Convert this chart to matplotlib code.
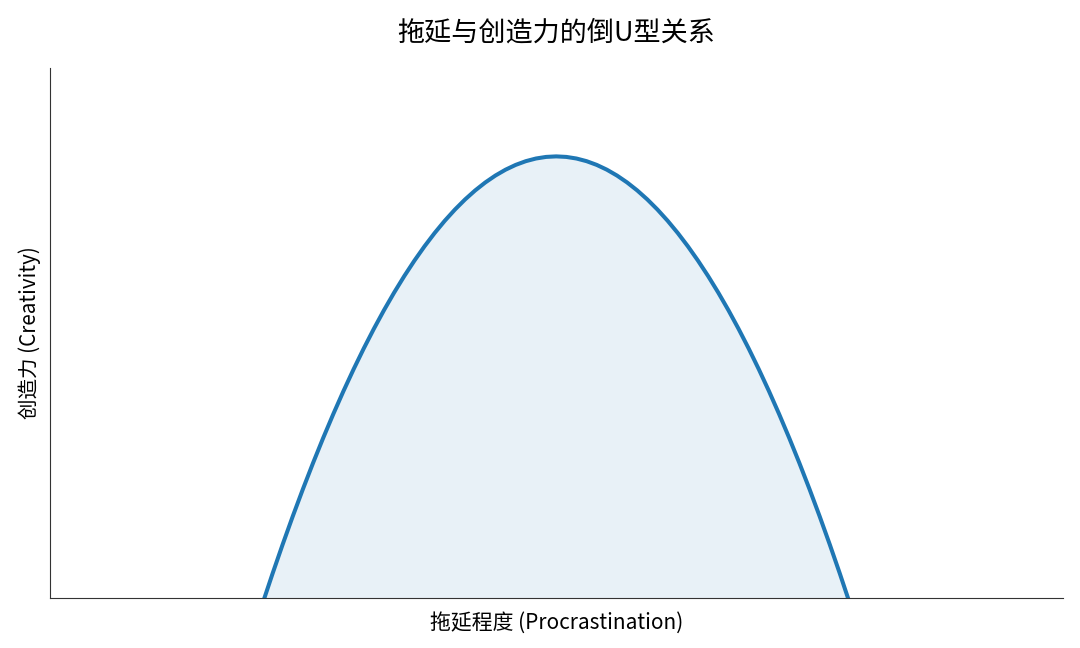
import matplotlib
matplotlib.use("Agg")
import matplotlib.pyplot as plt

plt.rcParams['font.family'] = ['Noto Sans CJK SC', 'DejaVu Sans']

procrastination = [2.1, 2.2, 2.3, 2.4, 2.5, 2.6, 2.7, 2.8, 2.9, 3.0,
                   3.1, 3.2, 3.3, 3.4, 3.5, 3.6, 3.7, 3.8, 3.9, 4.0,
                   4.1, 4.2, 4.3, 4.4, 4.5, 4.6, 4.7, 4.8, 4.9, 5.0,
                   5.1, 5.2, 5.3, 5.4, 5.5, 5.6, 5.7, 5.8, 5.9, 6.0,
                   6.1, 6.2, 6.3, 6.4, 6.5, 6.6, 6.7, 6.8, 6.9, 7.0,
                   7.1, 7.2, 7.3, 7.4, 7.5, 7.6, 7.7, 7.8, 7.9]
creativity = [-0.055, 0.23, 0.505, 0.77, 1.025, 1.27, 1.505, 1.73, 1.945, 2.15,
              2.345, 2.53, 2.705, 2.87, 3.025, 3.17, 3.305, 3.43, 3.545, 3.65,
              3.745, 3.83, 3.905, 3.97, 4.025, 4.07, 4.105, 4.13, 4.145, 4.15,
              4.145, 4.13, 4.105, 4.07, 4.025, 3.97, 3.905, 3.83, 3.745, 3.65,
              3.545, 3.43, 3.305, 3.17, 3.025, 2.87, 2.705, 2.53, 2.345, 2.15,
              1.945, 1.73, 1.505, 1.27, 1.025, 0.77, 0.505, 0.23, -0.055]

title = "拖延与创造力的倒U型关系"
xlabel = "拖延程度 (Procrastination)"
ylabel = "创造力 (Creativity)"

fig = plt.figure(figsize=(10.8, 6.48), dpi=100)
ax = fig.add_axes([0.046, 0.077, 0.938, 0.818])
ax.plot(procrastination, creativity, color='#1f77b4', lw=2.9, solid_joinstyle='round')
ax.fill_between(procrastination, creativity, 0, color='#1f77b4', alpha=0.1, lw=0)
ax.set_xlim(0, 10)
ax.set_ylim(0, 4.98)
ax.set_xticks([])
ax.set_yticks([])
for s in ['top', 'right']:
    ax.spines[s].set_visible(False)
for s in ['left', 'bottom']:
    ax.spines[s].set_color('#333333')
    ax.spines[s].set_linewidth(0.8)
ax.set_title(title, fontsize=19.5, pad=20)
ax.set_xlabel(xlabel, fontsize=15, labelpad=10)
ax.set_ylabel(ylabel, fontsize=14.8, labelpad=6)
fig.savefig("out.png", dpi=100)
